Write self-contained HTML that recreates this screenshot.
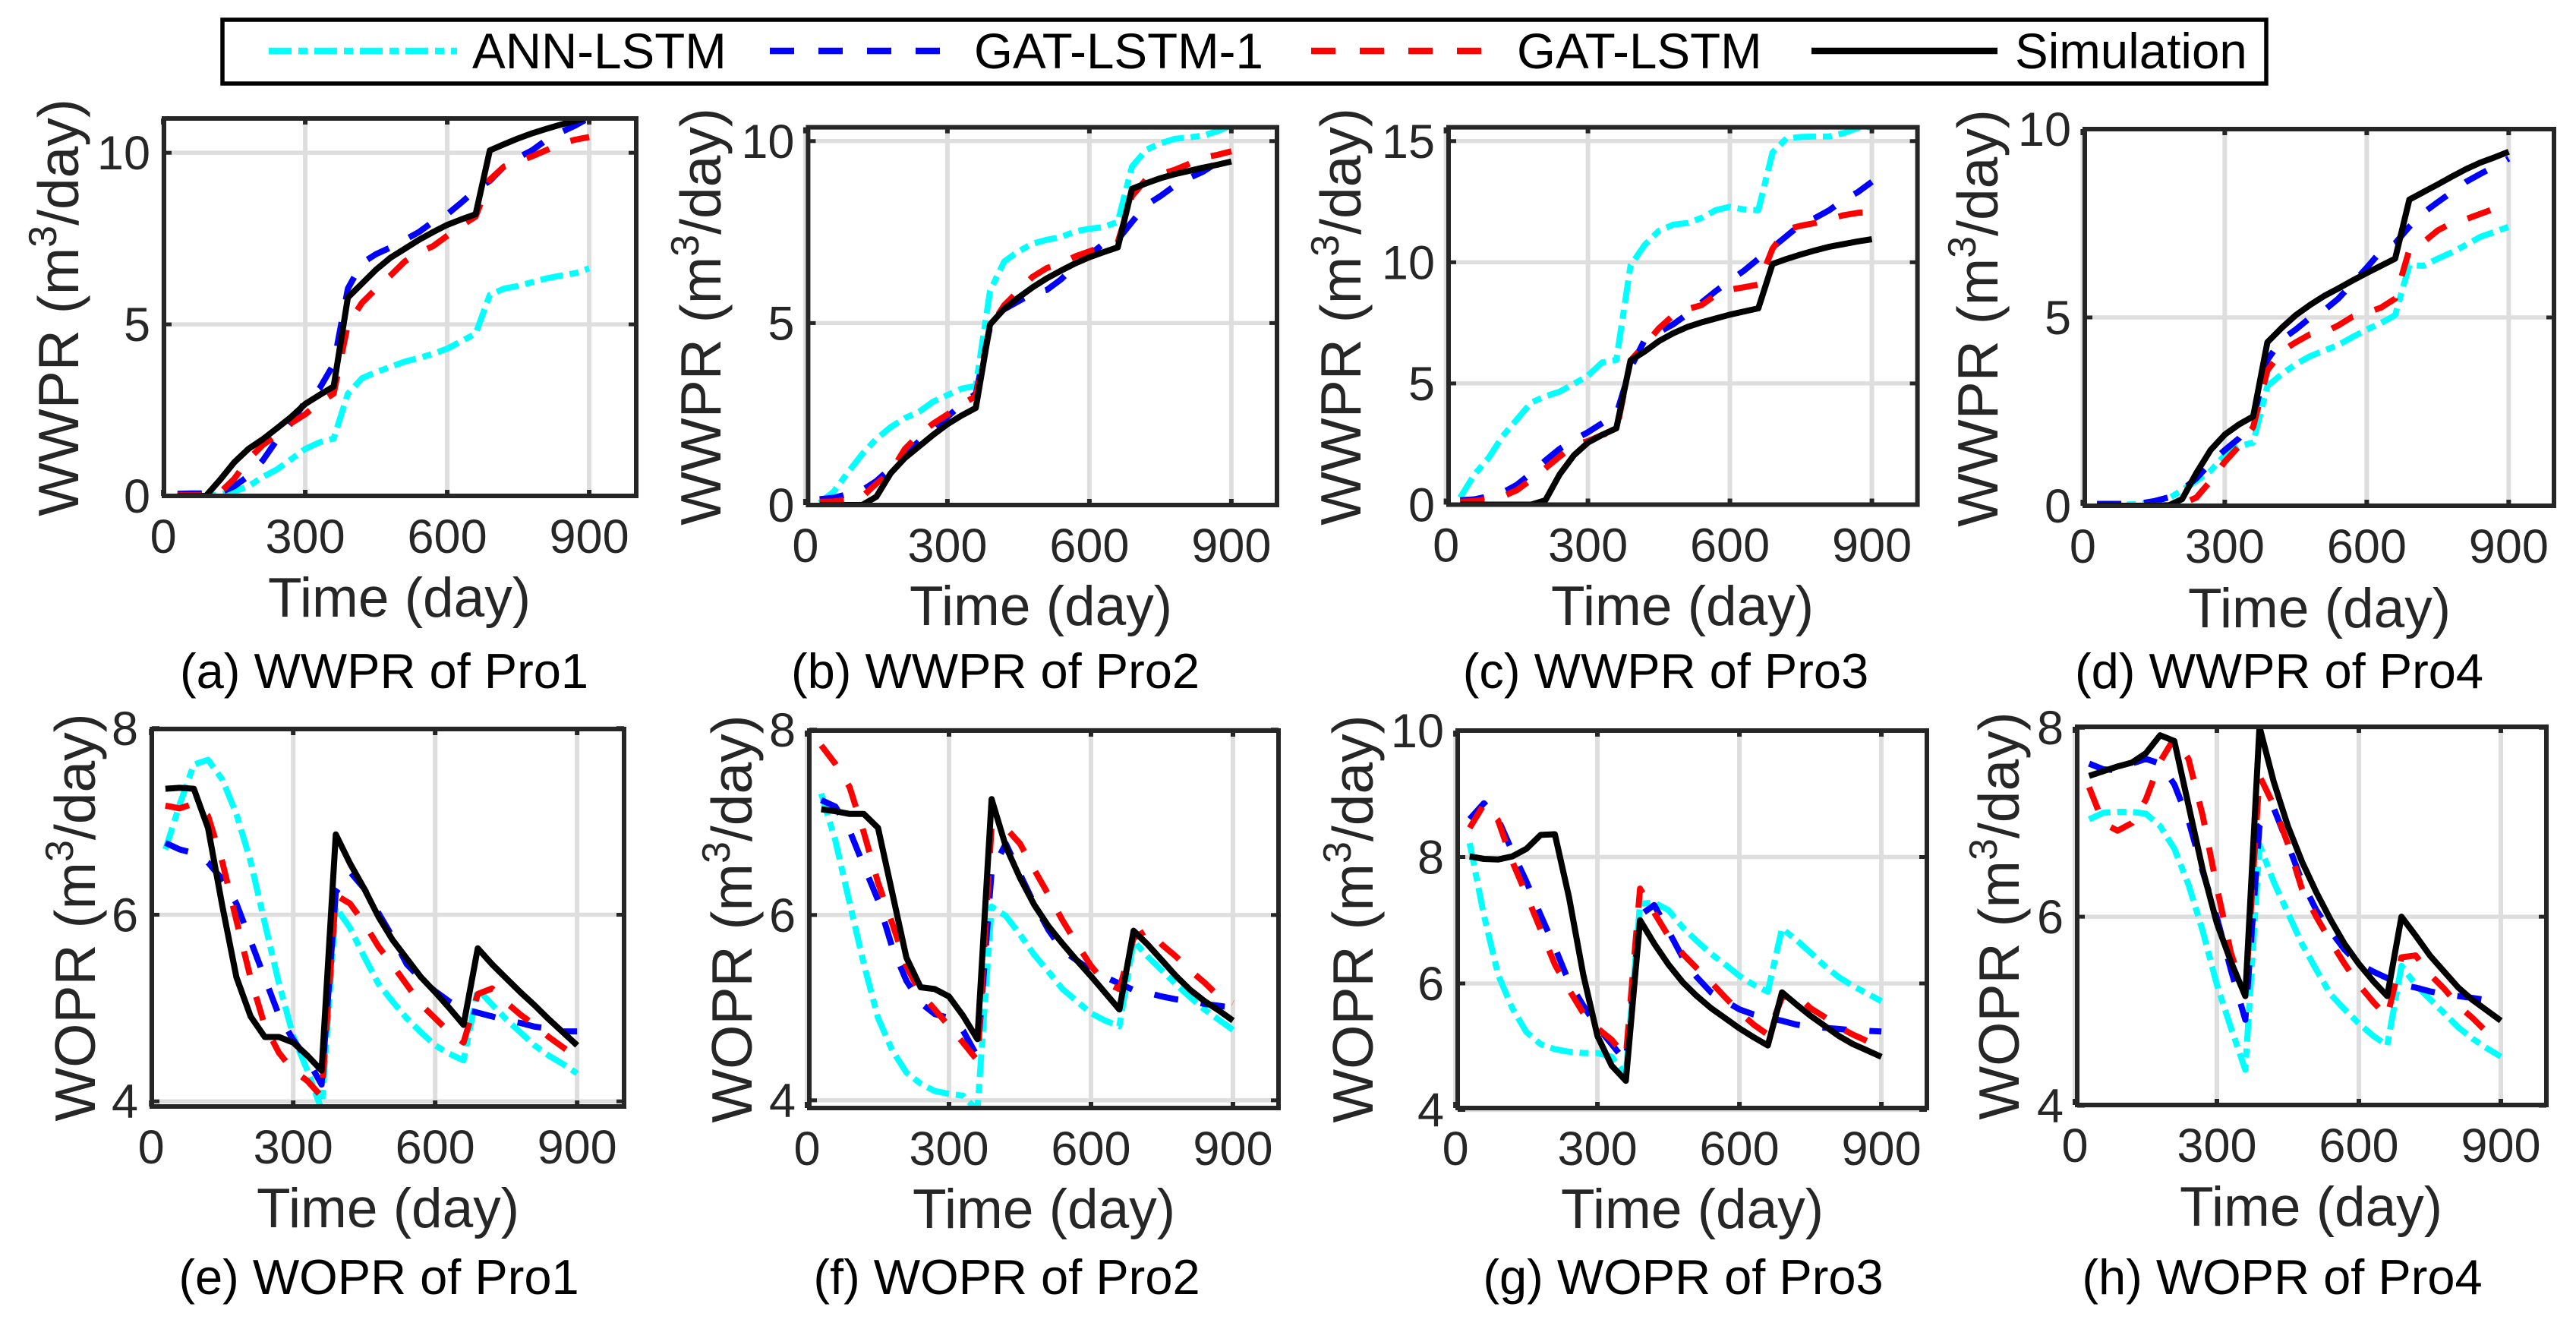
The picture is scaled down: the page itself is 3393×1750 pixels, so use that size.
<!DOCTYPE html>
<html lang="en">
<head>
<meta charset="utf-8">
<title>WWPR and WOPR comparison</title>
<style>
html,body{margin:0;padding:0;background:#fff;}
svg{display:block;font-family:"Liberation Sans",Arial,sans-serif;}
.axis-title{font-size:73px;fill:#262626;text-anchor:middle;}
.y-title{font-size:75px;fill:#262626;text-anchor:middle;}
.caption{font-size:65px;fill:#000;text-anchor:middle;}
.legend-text{font-size:65.5px;fill:#000;}
.tick-label{font-size:63px;fill:#262626;}
</style>
</head>
<body>
<svg id="figure" xmlns="http://www.w3.org/2000/svg" width="3393" height="1750" viewBox="0 0 3393 1750">
  <rect x="0" y="0" width="3393" height="1750" fill="#ffffff"/>
  <g>
    <rect x="293" y="26" width="2692" height="84" fill="#fff" stroke="#000" stroke-width="5.5"/>
    <line x1="354" y1="67" x2="602" y2="67" stroke="#00ffff" stroke-width="8.5" stroke-dasharray="30 9 12 9"/>
    <text class="legend-text" x="622" y="90">ANN-LSTM</text>
    <line x1="1014" y1="67" x2="1239" y2="67" stroke="#0000ff" stroke-width="8.5" stroke-dasharray="32 32"/>
    <text class="legend-text" x="1283" y="90">GAT-LSTM-1</text>
    <line x1="1727" y1="67" x2="1954" y2="67" stroke="#ff0000" stroke-width="8.5" stroke-dasharray="32 32"/>
    <text class="legend-text" x="1998" y="90">GAT-LSTM</text>
    <line x1="2386" y1="67" x2="2631" y2="67" stroke="#000000" stroke-width="8.5"/>
    <text class="legend-text" x="2654" y="90">Simulation</text>
  </g>

  <g id="panel-a">
    <text class="y-title" transform="translate(103 405) rotate(-90)">WWPR (m<tspan dy="-29" font-size="52">3</tspan><tspan dy="29">/day)</tspan></text>
    <text class="axis-title" x="526" y="812">Time (day)</text>
    <text class="caption" x="506" y="906">(a) WWPR of Pro1</text>
  </g>
  <g id="panel-b">
    <text class="y-title" transform="translate(949 417) rotate(-90)">WWPR (m<tspan dy="-29" font-size="52">3</tspan><tspan dy="29">/day)</tspan></text>
    <text class="axis-title" x="1371" y="823">Time (day)</text>
    <text class="caption" x="1311" y="906">(b) WWPR of Pro2</text>
  </g>
  <g id="panel-c">
    <text class="y-title" transform="translate(1792 417) rotate(-90)">WWPR (m<tspan dy="-29" font-size="52">3</tspan><tspan dy="29">/day)</tspan></text>
    <text class="axis-title" x="2216" y="823">Time (day)</text>
    <text class="caption" x="2194" y="906">(c) WWPR of Pro3</text>
  </g>
  <g id="panel-d">
    <text class="y-title" transform="translate(2631 419) rotate(-90)">WWPR (m<tspan dy="-29" font-size="52">3</tspan><tspan dy="29">/day)</tspan></text>
    <text class="axis-title" x="3055" y="826">Time (day)</text>
    <text class="caption" x="3002" y="906">(d) WWPR of Pro4</text>
  </g>
  <g id="panel-e">
    <text class="y-title" transform="translate(125 1208) rotate(-90)">WOPR (m<tspan dy="-29" font-size="52">3</tspan><tspan dy="29">/day)</tspan></text>
    <text class="axis-title" x="511" y="1616">Time (day)</text>
    <text class="caption" x="499" y="1704">(e) WOPR of Pro1</text>
  </g>
  <g id="panel-f">
    <text class="y-title" transform="translate(990 1210) rotate(-90)">WOPR (m<tspan dy="-29" font-size="52">3</tspan><tspan dy="29">/day)</tspan></text>
    <text class="axis-title" x="1375" y="1617">Time (day)</text>
    <text class="caption" x="1326" y="1704">(f) WOPR of Pro2</text>
  </g>
  <g id="panel-g">
    <text class="y-title" transform="translate(1808 1210) rotate(-90)">WOPR (m<tspan dy="-29" font-size="52">3</tspan><tspan dy="29">/day)</tspan></text>
    <text class="axis-title" x="2229" y="1617">Time (day)</text>
    <text class="caption" x="2217" y="1704">(g) WOPR of Pro3</text>
  </g>
  <g id="panel-h">
    <text class="y-title" transform="translate(2659 1206) rotate(-90)">WOPR (m<tspan dy="-29" font-size="52">3</tspan><tspan dy="29">/day)</tspan></text>
    <text class="axis-title" x="3044" y="1614">Time (day)</text>
    <text class="caption" x="3006" y="1704">(h) WOPR of Pro4</text>
  </g>
</svg>
<script>
const days = [30,60,90,120,150,180,210,240,270,300,330,360,390,420,450,480,510,540,570,600,630,660,690,720,750,780,810,840,870,900];
const xTickValues = [0,300,600,900];
const yTicksWwpr = [0,5,10];
const yTicksWwprPro3 = [0,5,10,15];
const yTicksWopr = [4,6,8];
const yTicksWoprPro3 = [4,6,8,10];

const wwprPro1Ann = [0,0,0,.05,.13,.28,.55,.77,1.07,1.37,1.56,1.67,2.98,3.43,3.61,3.76,3.91,4.02,4.14,4.29,4.51,4.73,5.86,6.04,6.12,6.23,6.34,6.42,6.49,6.63];
const wwprPro1Gat1 = [.06,.07,.07,.1,.28,.58,1.03,1.63,2.12,2.75,3.13,3.84,6.04,6.79,7.05,7.24,7.46,7.69,7.99,8.21,8.55,8.92,9.18,9.6,9.86,10.08,10.38,10.6,10.79,11.02];
const wwprPro1Gat = [.02,.02,.02,.1,.5,1.07,1.48,1.78,2.12,2.38,2.72,2.98,5.0,5.63,6.04,6.42,6.83,7.09,7.28,7.58,7.88,8.14,9.22,9.6,9.75,9.9,10.08,10.27,10.38,10.46];
const wwprPro1Sim = [0,0,0,.47,.98,1.37,1.65,1.97,2.3,2.68,2.94,3.19,5.78,6.19,6.6,6.94,7.2,7.46,7.69,7.9,8.06,8.21,10.07,10.25,10.42,10.57,10.7,10.82,10.93,11.04];

const wwprPro2Ann = [.06,.37,.9,1.4,1.82,2.14,2.39,2.56,2.84,3.02,3.2,3.27,5.88,6.69,6.97,7.18,7.29,7.36,7.52,7.59,7.64,7.78,9.3,9.76,9.94,10.06,10.1,10.15,10.27,10.43];
const wwprPro2Gat1 = [.16,.2,.3,.41,.66,1.01,1.4,1.75,2.03,2.42,2.77,3.06,4.89,5.38,5.6,5.81,5.91,6.2,6.58,6.87,7.18,7.29,7.78,8.24,8.49,8.77,8.98,9.16,9.41,9.58];
const wwprPro2Gat = [.09,.1,.15,.23,.59,.9,1.54,1.93,2.24,2.49,2.77,2.99,4.89,5.49,5.88,6.27,6.51,6.65,6.83,6.97,7.11,7.22,8.49,8.95,9.09,9.21,9.37,9.55,9.62,9.72];
const wwprPro2Sim = [0,0,0,0,.23,.87,1.29,1.61,1.93,2.22,2.46,2.67,4.96,5.39,5.7,5.98,6.23,6.44,6.64,6.81,6.95,7.08,8.69,8.84,8.98,9.09,9.18,9.27,9.35,9.44];

const wwprPro3Ann = [.29,1.24,1.93,2.83,3.52,4.21,4.47,4.66,4.98,5.32,5.87,5.97,9.87,10.72,11.3,11.55,11.62,11.83,12.15,12.29,12.18,12.15,14.53,15.12,15.17,15.19,15.19,15.33,15.54,15.59];
const wwprPro3Gat1 = [.18,.22,.34,.5,.82,1.29,1.82,2.3,2.67,2.99,3.36,3.73,5.64,6.8,7.12,7.44,7.86,8.34,8.81,9.24,9.66,10.14,10.61,11.09,11.57,11.83,12.15,12.57,12.89,13.32];
const wwprPro3Gat = [.12,.15,.23,.34,.6,1.03,1.5,1.98,2.46,2.62,2.88,3.04,5.95,6.59,7.28,7.81,8.07,8.23,8.65,8.87,8.97,9.08,10.56,11.36,11.51,11.62,11.78,11.94,12.04,12.08];
const wwprPro3Sim = [0,0,0,0,0,0,.18,1.24,2.03,2.56,2.88,3.15,5.95,6.32,6.75,7.07,7.33,7.52,7.68,7.84,7.97,8.1,9.93,10.14,10.32,10.49,10.64,10.75,10.86,10.95];

const wwprPro4Ann = [.02,.02,.03,.05,.1,.18,.42,.66,.93,1.34,1.58,1.68,3.18,3.49,3.76,3.97,4.12,4.27,4.48,4.68,4.85,5.06,6.39,6.37,6.56,6.73,6.93,7.14,7.27,7.41];
const wwprPro4Gat1 = [.05,.05,.05,.06,.12,.22,.42,.73,1.14,1.48,1.79,2.3,3.87,4.41,4.68,4.99,5.19,5.5,5.91,6.32,6.76,6.97,7.41,7.78,8.06,8.33,8.6,8.81,9.01,9.22];
const wwprPro4Gat = [0,0,0,0,0,.02,.05,.22,.66,1.17,1.58,2.09,3.59,4.1,4.34,4.55,4.6,4.79,5.02,5.13,5.26,5.5,6.8,7.0,7.31,7.51,7.61,7.75,7.89,7.96];
const wwprPro4Sim = [0,0,0,0,0,0,.18,.87,1.48,1.89,2.16,2.37,4.34,4.72,5.06,5.33,5.57,5.77,5.98,6.18,6.37,6.56,8.13,8.33,8.53,8.74,8.94,9.11,9.25,9.4];

const woprPro1Ann = [6.7,7.18,7.61,7.66,7.45,7.08,6.57,5.91,5.26,4.7,4.33,3.91,6.08,5.86,5.55,5.26,5.07,4.89,4.74,4.6,4.51,4.44,5.2,5.04,4.88,4.74,4.6,4.49,4.4,4.3];
const woprPro1Gat1 = [6.77,6.7,6.66,6.56,6.38,6.12,5.72,5.32,4.92,4.66,4.45,4.18,6.24,6.46,6.28,6.02,5.76,5.47,5.31,5.18,5.07,4.99,4.95,4.91,4.87,4.84,4.8,4.78,4.75,4.75];
const woprPro1Gat = [7.17,7.14,7.19,7.06,6.57,5.94,5.32,4.81,4.52,4.33,4.22,4.05,6.21,6.12,5.91,5.66,5.46,5.25,5.04,4.89,4.74,4.63,5.15,5.21,5.06,4.93,4.82,4.69,4.58,4.47];
const woprPro1Sim = [7.35,7.36,7.35,6.93,6.1,5.33,4.91,4.69,4.69,4.63,4.49,4.33,6.86,6.55,6.28,5.98,5.73,5.53,5.33,5.17,5.0,4.82,5.64,5.47,5.32,5.17,5.03,4.88,4.74,4.6];

const woprPro2Ann = [7.31,6.8,6.13,5.47,4.89,4.54,4.3,4.18,4.1,4.07,4.05,3.89,6.09,5.99,5.79,5.57,5.39,5.2,5.07,4.94,4.86,4.8,5.72,5.55,5.4,5.25,5.11,4.98,4.87,4.76];
const woprPro2Gat1 = [7.24,7.17,6.91,6.53,6.16,5.65,5.29,5.05,4.93,4.89,4.75,4.47,6.47,6.77,6.44,6.12,5.84,5.62,5.51,5.4,5.33,5.26,5.19,5.16,5.12,5.09,5.07,5.04,5.02,5.0];
const woprPro2Gat = [7.83,7.63,7.38,6.89,6.35,5.91,5.45,5.15,4.98,4.8,4.62,4.43,6.96,6.94,6.77,6.49,6.22,5.94,5.69,5.45,5.27,5.2,5.75,5.84,5.68,5.55,5.4,5.27,5.12,5.05];
const woprPro2Sim = [7.14,7.12,7.09,7.09,6.94,6.24,5.54,5.22,5.2,5.12,4.91,4.66,7.25,6.74,6.4,6.11,5.88,5.69,5.51,5.34,5.16,4.98,5.83,5.68,5.51,5.34,5.19,5.07,4.97,4.86];

const woprPro3Ann = [8.22,7.08,6.14,5.61,5.23,5.04,4.96,4.92,4.9,4.9,4.84,4.56,7.26,7.28,7.16,6.89,6.67,6.47,6.3,6.12,5.98,5.87,6.87,6.69,6.49,6.28,6.1,5.96,5.84,5.72];
const woprPro3Gat1 = [8.6,8.85,8.6,8.09,7.61,7.08,6.57,6.02,5.65,5.31,5.04,4.76,7.08,7.24,6.83,6.41,6.1,5.86,5.72,5.59,5.51,5.46,5.41,5.35,5.32,5.3,5.28,5.26,5.25,5.24];
const woprPro3Gat = [8.46,8.83,8.58,7.93,7.4,6.85,6.3,5.9,5.53,5.29,5.11,4.84,7.5,7.12,6.75,6.47,6.24,6.02,5.78,5.55,5.35,5.19,5.78,5.82,5.61,5.47,5.31,5.19,5.09,4.98];
const woprPro3Sim = [8.01,7.97,7.96,8.01,8.13,8.35,8.36,7.36,6.14,5.17,4.7,4.46,7.0,6.63,6.3,6.02,5.8,5.61,5.45,5.29,5.15,5.02,5.86,5.67,5.49,5.33,5.17,5.04,4.94,4.84];

const woprPro4Ann = [7.03,7.1,7.11,7.11,7.09,6.96,6.72,6.34,5.85,5.28,4.82,4.38,6.76,6.37,6.04,5.71,5.44,5.18,5.02,4.87,4.74,4.64,5.48,5.28,5.13,4.98,4.83,4.71,4.61,4.52];
const woprPro4Gat1 = [7.62,7.56,7.55,7.62,7.67,7.62,7.4,7.02,6.48,5.99,5.43,4.91,6.96,7.15,6.77,6.37,6.07,5.85,5.65,5.5,5.42,5.35,5.28,5.25,5.21,5.18,5.16,5.14,5.12,5.1];
const woprPro4Gat = [7.37,6.99,6.91,6.99,7.24,7.64,7.89,7.67,7.07,6.31,5.61,5.16,7.49,7.18,6.77,6.29,6.0,5.74,5.5,5.28,5.1,4.94,5.57,5.59,5.39,5.24,5.06,4.93,4.78,4.67];
const woprPro4Sim = [7.49,7.54,7.59,7.63,7.73,7.92,7.86,7.18,6.5,5.93,5.52,5.16,8.01,7.43,6.96,6.58,6.26,5.97,5.71,5.5,5.32,5.16,6.0,5.8,5.59,5.42,5.25,5.12,5.01,4.9];

const panelSpecs = [
  {id:'panel-a',left:216,right:838,top:156,bottom:653,xZero:215.1,yMin:0,yMax:11,yTicks:yTicksWwpr,ann:wwprPro1Ann,gat1:wwprPro1Gat1,gat:wwprPro1Gat,sim:wwprPro1Sim},
  {id:'panel-b',left:1064.4,right:1682,top:167.6,bottom:665,xZero:1060.9,yMin:0,yMax:10.38,yTicks:yTicksWwpr,ann:wwprPro2Ann,gat1:wwprPro2Gat1,gat:wwprPro2Gat,sim:wwprPro2Sim},
  {id:'panel-c',left:1908,right:2525.6,top:167.6,bottom:664.5,xZero:1904.6,yMin:0,yMax:15.57,yTicks:yTicksWwprPro3,ann:wwprPro3Ann,gat1:wwprPro3Gat1,gat:wwprPro3Gat,sim:wwprPro3Sim},
  {id:'panel-d',left:2746,right:3364,top:170,bottom:666,xZero:2743.4,yMin:0,yMax:10,yTicks:yTicksWwpr,ann:wwprPro4Ann,gat1:wwprPro4Gat1,gat:wwprPro4Gat,sim:wwprPro4Sim},
  {id:'panel-e',left:200,right:822,top:960,bottom:1457,xZero:199.2,yMin:3.945,yMax:7.99,yTicks:yTicksWopr,ann:woprPro1Ann,gat1:woprPro1Gat1,gat:woprPro1Gat,sim:woprPro1Sim},
  {id:'panel-f',left:1066,right:1684,top:962,bottom:1459,xZero:1063,yMin:3.917,yMax:7.99,yTicks:yTicksWopr,ann:woprPro2Ann,gat1:woprPro2Gat1,gat:woprPro2Gat,sim:woprPro2Sim},
  {id:'panel-g',left:1920,right:2538,top:962,bottom:1459,xZero:1917.1,yMin:4.03,yMax:10,yTicks:yTicksWoprPro3,ann:woprPro3Ann,gat1:woprPro3Gat1,gat:woprPro3Gat,sim:woprPro3Sim},
  {id:'panel-h',left:2736,right:3354,top:957,bottom:1455,xZero:2733,yMin:4.008,yMax:8.01,yTicks:yTicksWopr,ann:woprPro4Ann,gat1:woprPro4Gat1,gat:woprPro4Gat,sim:woprPro4Sim}
];
const PX_PER_DAY = 0.6233;
const SVG_NS = 'http://www.w3.org/2000/svg';

function svgEl(tag, attrs, parent) {
  const el = document.createElementNS(SVG_NS, tag);
  for (const key in attrs) el.setAttribute(key, attrs[key]);
  parent.appendChild(el);
  return el;
}

function drawSeries(parent, values, xScale, yScale, style, seriesName, clipId) {
  const pts = values.map(function (v, i) {
    return xScale(days[i]).toFixed(1) + ',' + yScale(v).toFixed(1);
  }).join(' ');
  const line = svgEl('polyline', {points: pts, fill: 'none', stroke: style.color, 'stroke-width': style.width, 'stroke-linejoin': 'round', 'clip-path': 'url(#' + clipId + ')'}, parent);
  if (style.dash) line.setAttribute('stroke-dasharray', style.dash);
  
  
}

panelSpecs.forEach(function (p) {
  const g = document.getElementById(p.id);
  const xScale = function (t) { return p.xZero + t * PX_PER_DAY; };
  const yScale = function (v) { return p.bottom - (v - p.yMin) / (p.yMax - p.yMin) * (p.bottom - p.top); };
  const clipId = p.id + '-clip';

  const clip = svgEl('clipPath', {id: clipId}, g);
  svgEl('rect', {x: p.left, y: p.top, width: p.right - p.left, height: p.bottom - p.top}, clip);

  xTickValues.forEach(function (t) {
    const x = xScale(t);
    const grid = svgEl('line', {x1: x, x2: x, y1: p.top, y2: p.bottom, stroke: '#dedede', 'stroke-width': 6}, g);
    
    
    const label = svgEl('text', {x: x, y: p.bottom + 75, 'text-anchor': 'middle', class: 'tick-label'}, g);
    label.textContent = String(t);
    
    
  });
  p.yTicks.forEach(function (v) {
    const y = yScale(v);
    const grid = svgEl('line', {x1: p.left, x2: p.right, y1: y, y2: y, stroke: '#dedede', 'stroke-width': 5.5}, g);
    
    
    const label = svgEl('text', {x: p.left - 18, y: y + 22, 'text-anchor': 'end', class: 'tick-label'}, g);
    label.textContent = String(v);
    
    
  });

  drawSeries(g, p.ann, xScale, yScale, {color: '#00ffff', width: 8, dash: '30 9 12 9'}, 'ann-lstm', clipId);
  drawSeries(g, p.gat1, xScale, yScale, {color: '#0000ff', width: 8, dash: '32 30'}, 'gat-lstm-1', clipId);
  drawSeries(g, p.gat, xScale, yScale, {color: '#ff0000', width: 8, dash: '32 30'}, 'gat-lstm', clipId);
  drawSeries(g, p.sim, xScale, yScale, {color: '#000000', width: 8, dash: ''}, 'simulation', clipId);

  xTickValues.forEach(function (t) {
    const x = xScale(t);
    [[p.bottom, p.bottom - 8], [p.top, p.top + 8]].forEach(function (ends) {
      const tick = svgEl('line', {x1: x, x2: x, y1: ends[0], y2: ends[1], stroke: '#262626', 'stroke-width': 6}, g);
      
      
    });
  });
  p.yTicks.forEach(function (v) {
    const y = yScale(v);
    [[p.left, p.left + 10], [p.right, p.right - 10]].forEach(function (ends) {
      const tick = svgEl('line', {x1: ends[0], x2: ends[1], y1: y, y2: y, stroke: '#262626', 'stroke-width': 5}, g);
      
      
    });
  });

  const frame = svgEl('rect', {x: p.left, y: p.top, width: p.right - p.left, height: p.bottom - p.top, fill: 'none', stroke: '#262626', 'stroke-width': 6}, g);
  
  
});
</script>
</body>
</html>
